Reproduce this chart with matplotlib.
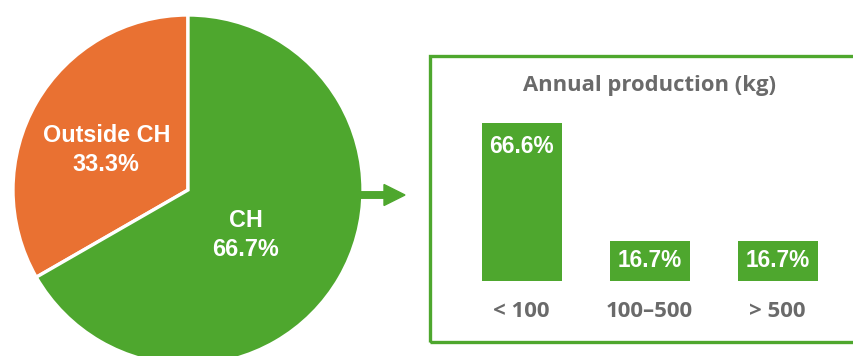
import matplotlib
matplotlib.use("Agg")
import matplotlib.pyplot as plt
from matplotlib.patches import Rectangle, FancyArrow
from matplotlib.transforms import IdentityTransform
import numpy as np

# Origin split (pie)
origin_labels = ["Outside CH", "CH"]
origin_shares = [33.3, 66.7]

# Annual production of the CH group (bars)
prod_categories = ["< 100", "100\u2013500", "> 500"]
prod_shares = [66.6, 16.7, 16.7]

GREEN = "#4EA72E"
ORANGE = "#E97132"
GRAY = "#6A6A6A"

W, H, DPI = 854, 356, 100
fig = plt.figure(figsize=(W / DPI, H / DPI), dpi=DPI)
fig.patch.set_facecolor("white")


def fig_box(x0, y0, x1, y1):
    """Convert a pixel box (top-left origin) to figure fraction [l, b, w, h]."""
    return [x0 / W, (H - y1) / H, (x1 - x0) / W, (y1 - y0) / H]


# ---- Pie ----
axp = fig.add_axes(fig_box(13, 15, 363, 365))
wedges, _ = axp.pie(origin_shares, colors=[ORANGE, GREEN], startangle=90,
                    counterclock=True, radius=1.0,
                    wedgeprops=dict(edgecolor="white", linewidth=2.4))
axp.set_xlim(-1, 1)
axp.set_ylim(-1, 1)
axp.set_aspect("equal")
axp.axis("off")

pie_font = dict(family=["Liberation Sans", "DejaVu Sans"], weight="bold",
                color="white", fontsize=16.8, ha="center", va="center",
                linespacing=1.35)
label_pos = [(154, 0.52), (-38, 0.42)]
for name, share, (ang, r) in zip(origin_labels, origin_shares, label_pos):
    a = np.deg2rad(ang)
    axp.text(r * np.cos(a), r * np.sin(a), f"{name}\n{share:.1f}%", **pie_font)

# ---- Arrow from pie to the bar panel ----
fig.patches.append(FancyArrow(361, H - 195, 44, 0, width=6.5, head_width=21,
                              head_length=21, length_includes_head=True,
                              color=GREEN, transform=IdentityTransform(),
                              figure=fig))

# ---- Framed panel ----
fig.patches.append(Rectangle((430, H - 342), 460, 286, fill=False,
                             edgecolor=GREEN, linewidth=2.4,
                             transform=IdentityTransform(), figure=fig))
fig.text(650 / W, 1 - 85 / H, "Annual production (kg)",
         family=["Open Sans", "DejaVu Sans"], weight="bold", color=GRAY,
         fontsize=15.8, ha="center", va="center")

# ---- Bars ----
axb = fig.add_axes(fig_box(457.7, 114.7, 841.7, 280.7))
x = np.arange(len(prod_categories))
bars = axb.bar(x, prod_shares, width=0.625, color=GREEN)
axb.set_xlim(-0.5, 2.5)
axb.set_ylim(0, 70)
axb.axis("off")

px_per_unit = 166 / 70
for xi, v in zip(x, prod_shares):
    off = min(24, v * px_per_unit / 2)
    axb.annotate(f"{v:.1f}%", (xi, v), xytext=(0, -off * 72 / DPI),
                 textcoords="offset points", ha="center", va="center",
                 family=["Liberation Sans", "DejaVu Sans"], weight="bold",
                 color="white", fontsize=16.3)
for xi, lab in zip(x, prod_categories):
    axb.annotate(lab, (xi, 0), xytext=(0, -31 * 72 / DPI),
                 textcoords="offset points", ha="center", va="center",
                 family=["Open Sans", "DejaVu Sans"], weight="bold",
                 color=GRAY, fontsize=16)

fig.savefig("out.png", dpi=DPI, facecolor="white")
